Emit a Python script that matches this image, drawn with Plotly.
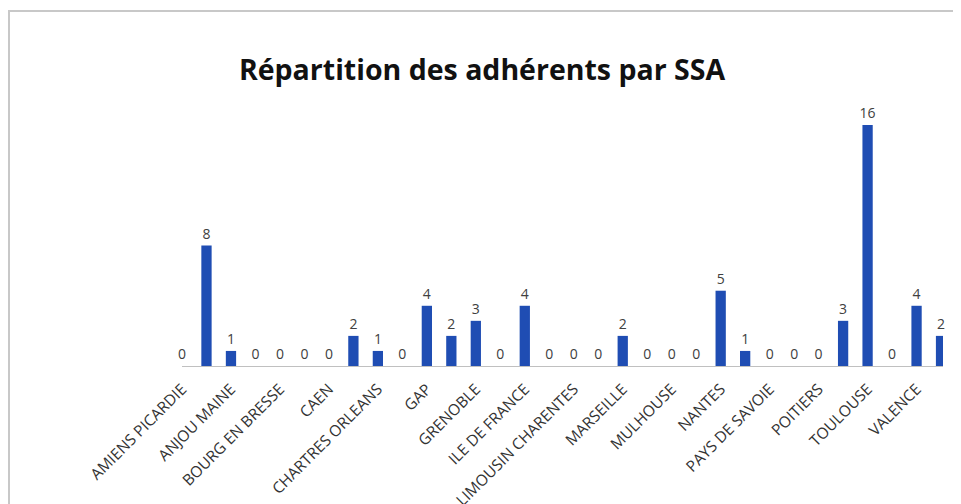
import plotly.graph_objects as go

# Data (32 categories, only every other one labelled on the axis)
values = [0, 8, 1, 0, 0, 0, 0, 2, 1, 0, 4, 2, 3, 0, 4, 0,
          0, 0, 2, 0, 0, 0, 5, 1, 0, 0, 0, 3, 16, 0, 4, 2]
tick_labels = ["AMIENS PICARDIE", "ANJOU MAINE", "BOURG EN BRESSE", "CAEN",
               "CHARTRES ORLEANS", "GAP", "GRENOBLE", "ILE DE FRANCE",
               "LIMOUSIN CHARENTES", "MARSEILLE", "MULHOUSE", "NANTES",
               "PAYS DE SAVOIE", "POITIERS", "TOULOUSE", "VALENCE"]
title = "Répartition des adhérents par SSA"

positions = list(range(len(values)))
tick_positions = positions[::2]

W, H = 961, 504
OFF = 8  # page body margin
ml, mr, mt, mb = 182 - OFF, 961 - (943 - OFF), 95 - OFF, 504 - (366 - OFF)

fig = go.Figure()
fig.add_trace(go.Bar(
    x=positions, y=values,
    marker=dict(color="#1f4db3", line=dict(width=0)),
    text=[str(v) for v in values],
    textposition="outside",
    constraintext="none",
    textfont=dict(family="Open Sans", size=14, color="#404040"),
    cliponaxis=False,
    width=0.42,
))

pw = W - ml - mr
ph = H - mt - mb
# chart border (left and top), in paper coords relative to the plot area
x_left = (1 - ml) / pw
x_right = (W - ml) / pw
y_top = (H - mb - 3) / ph
y_bot = (H - mb - H) / ph
fig.add_shape(type="path", xref="paper", yref="paper",
              path=f"M {x_left} {y_bot} L {x_left} {y_top} L {x_right} {y_top}",
              line=dict(color="#c8c8c8", width=2), layer="below")

fig.update_layout(
    width=W, height=H,
    margin=dict(l=ml, r=mr, t=mt, b=mb, autoexpand=False),
    paper_bgcolor="white", plot_bgcolor="white",
    showlegend=False,
    title=dict(text=f"<b>{title}</b>", x=(482 - OFF) / W, xanchor="center",
               y=1 - (70 - OFF) / H, yanchor="middle", yref="container",
               font=dict(family="Open Sans", size=28.5, color="#111111")),
    xaxis=dict(range=[0.0, 31.08], tickmode="array", tickvals=tick_positions,
               ticktext=tick_labels, tickangle=-45, showgrid=False,
               zeroline=False, showline=True, linecolor="#c0c0c0", linewidth=1,
               ticks="", ticklabelstandoff=7, automargin=False,
               tickfont=dict(family="Open Sans", size=15.5, color="#333333")),
    yaxis=dict(range=[0, 18], visible=False, automargin=False),
)

fig.write_html("out.html")
